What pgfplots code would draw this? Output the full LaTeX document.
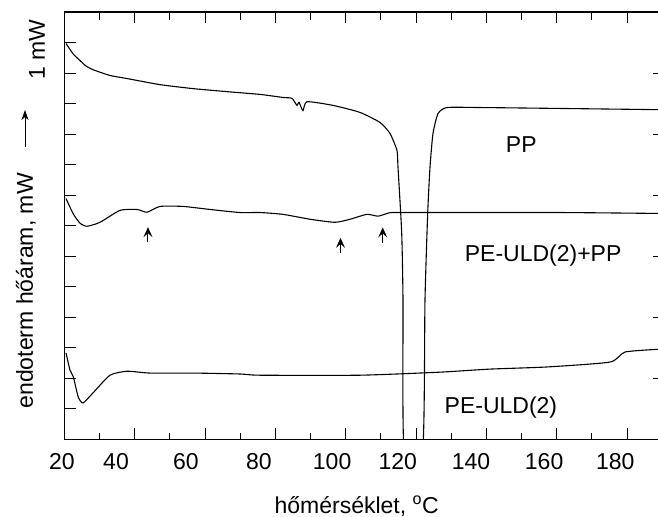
\documentclass[border=0pt]{standalone}
\usepackage{fontspec}
\setmainfont{Liberation Sans}
\usepackage{pgfplots}
\pgfplotsset{compat=1.18}
\usetikzlibrary{calc,arrows.meta}

% tick label shifted left by half the kern
\newcommand{\shl}[2]{\makebox[0pt]{#2\kern#1bp}}

\begin{document}
\fontsize{23bp}{28bp}\selectfont
\begin{tikzpicture}
\begin{axis}[
  width=594.3bp, height=427.3bp, scale only axis,
  xmin=20, xmax=189, ymin=0, ymax=14,
  ytick pos=left,
  xtick={20,40,...,180},
  xticklabels={\shl{5}{20},\shl{37.6}{40},\shl{38.4}{60},\shl{33}{80},\shl{27.4}{100},
    \shl{36.6}{120},\shl{31}{140},\shl{25.4}{160},\shl{23.8}{180}},
  minor xtick={30,50,...,170},
  ytick={1,...,13}, yticklabels={},
  major tick length=11bp, minor tick length=6bp,
  tick style={line width=1bp, black},
  axis line style={line width=1.3bp},
  x tick label style={yshift=-6bp},
  xlabel={hőmérséklet, \textsuperscript{o}C},
  xlabel style={at={(axis description cs:0.5,0)}, anchor=base, yshift=-73.7bp, xshift=-5bp},
  ylabel={endoterm hőáram, mW},
  ylabel style={at={($(rel axis cs:0,0.326)+(-31.5bp,0)$)}, anchor=base},
]
% PP
\addplot[black, line width=1.1bp, smooth, tension=0.35] coordinates {
(20.43,12.97) (22.5,12.62) (24.41,12.41) (26.0,12.24) (28.10,12.11) (32.94,11.92)
(37.77,11.82) (47.16,11.62) (56.54,11.49) (66.21,11.39) (75.60,11.30)
(82.13,11.20) (84.69,11.17) (86.11,10.94) (86.68,11.04) (87.82,10.77)
(88.96,11.06) (96.35,10.94) (104.03,10.71) (109.72,10.38) (112.56,10.02)
(114.55,9.46) (114.84,8.91) (115.89,6.75) (116.26,4.56) (116.55,-0.3)
(121.86,-0.3) (122.51,4.56) (123.28,7.40) (123.93,8.91) (124.79,10.02)
(126.21,10.67) (128.77,10.87) (138.15,10.87) (160.9,10.84) (189,10.80)
};
% PE-ULD(2)+PP
\addplot[black, line width=1.1bp, smooth, tension=0.35] coordinates {
(20.43,7.89) (22.42,7.40) (24.41,7.08) (26.40,6.98) (30.10,7.11) (35.78,7.50)
(40.62,7.53) (43.46,7.44) (47.16,7.63) (53.70,7.63) (61.38,7.53) (69.91,7.43)
(75.60,7.43) (82.13,7.37) (89.81,7.21) (96.92,7.11) (101.19,7.21) (106.02,7.37)
(109.15,7.31) (111.71,7.40) (113.42,7.43) (123.94,7.43) (160.9,7.43) (189,7.40)
};
% PE-ULD(2)
\addplot[black, line width=1.1bp, smooth, tension=0.35] coordinates {
(20.43,2.83) (21.56,2.27) (22.5,2.05) (23.9,1.39) (25.26,1.19) (28.10,1.52)
(32.94,2.10) (37.77,2.23) (44.31,2.17) (56.54,2.17) (69.91,2.14) (75.60,2.10)
(104.03,2.10) (126.78,2.20) (141.0,2.30) (157.2,2.37) (175.1,2.53) (179.4,2.86)
(189,2.95)
};
\draw[-{Stealth[length=10bp,width=9bp,inset=4bp]}, line width=1bp] (axis cs:43.74,6.45) -- (axis cs:43.74,6.95);
\draw[-{Stealth[length=10bp,width=9bp,inset=4bp]}, line width=1bp] (axis cs:98.49,6.10) -- (axis cs:98.49,6.60);
\draw[-{Stealth[length=10bp,width=9bp,inset=4bp]}, line width=1bp] (axis cs:110.49,6.42) -- (axis cs:110.49,6.94);
\node[anchor=base] at (axis cs:149.9,9.40) {PP};
\node[anchor=base] at (axis cs:156.1,5.83) {PE-ULD(2)+PP};
\node[anchor=base] at (axis cs:144.1,0.86) {PE-ULD(2)};
% tick marks on the frame, as in the scan
\pgfplotsinvokeforeach{40,60,...,180}{\draw[line width=1bp] (axis cs:#1,0) -- (axis cs:#1,0.36);}
\pgfplotsinvokeforeach{30,50,...,170}{\draw[line width=1bp] (axis cs:#1,0) -- (axis cs:#1,0.2);}
\pgfplotsinvokeforeach{30,40,...,180}{\draw[line width=1bp] (axis cs:#1,14) -- (axis cs:#1,13.74);}
\pgfplotsinvokeforeach{2,4,...,12}{\draw[line width=1bp] (axis cs:189,#1) -- (axis cs:187.3,#1);}
\coordinate (bl) at (rel axis cs:0,0);
\coordinate (tl) at (rel axis cs:0,1);
\coordinate (tr) at (rel axis cs:1,1);
\end{axis}
\node[rotate=90, anchor=base] at ($(tl)+(-19.5bp,-37.5bp)$) {1 mW};
\draw[-{Stealth[length=10bp,width=7bp,inset=3bp]}, line width=0.8bp] ($(tl)+(-39.5bp,-135bp)$) -- ($(tl)+(-39.5bp,-98bp)$);
\pgfresetboundingbox
\path ($(bl)+(-64.5bp,-77.7bp)$) rectangle ($(tr)+(-0.8bp,12bp)$);
\end{tikzpicture}
\end{document}
